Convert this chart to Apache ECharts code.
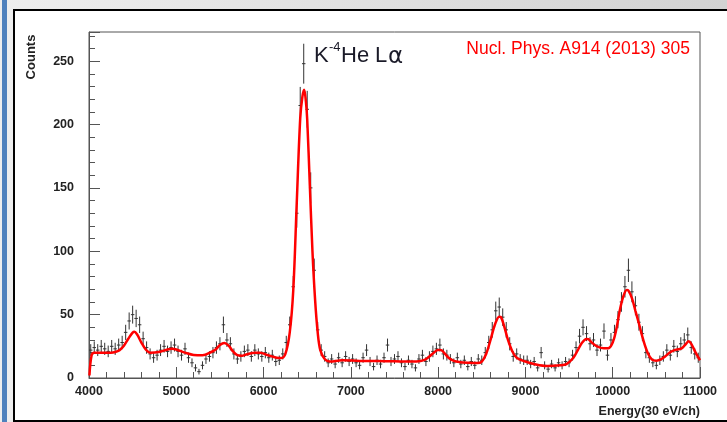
<!DOCTYPE html>
<html><head><meta charset="utf-8">
<script src="https://cdn.jsdelivr.net/npm/echarts@6/dist/echarts.min.js"></script>
<style>
html,body{margin:0;padding:0;width:727px;height:422px;overflow:hidden;background:linear-gradient(to right,#eeeeee,#d2d2d2);}
#blue{position:absolute;left:2px;top:0;width:5px;height:422px;background:#4f81bd;}
#frame{position:absolute;left:13px;top:9px;width:720px;height:409px;border:2px solid #000;background:#fff;}
#c{position:absolute;left:0;top:0;width:727px;height:422px;}
</style>
</head><body><div id="blue"></div><div id="frame"></div><div id="c"></div>
<script>
// Histogram bin centres (Energy, 30 eV/ch)
const binCenters = [
 4020,4060,4100,4140,4180,4220,4260,4300,4340,4380,4420,4460,4500,4540,4580,4620,4660,4700,4740,4780,4820,4860,4900,4940,4980,
 5020,5060,5100,5140,5180,5220,5260,5300,5340,5380,5420,5460,5500,5540,5580,5620,5660,5700,5740,5780,5820,5860,5900,5940,5980,
 6020,6060,6100,6140,6180,6220,6260,6300,6340,6380,6420,6460,6500,6540,6580,6620,6660,6700,6740,6780,6820,6860,6900,6940,6980,
 7020,7060,7100,7140,7180,7220,7260,7300,7340,7380,7420,7460,7500,7540,7580,7620,7660,7700,7740,7780,7820,7860,7900,7940,7980,
 8020,8060,8100,8140,8180,8220,8260,8300,8340,8380,8420,8460,8500,8540,8580,8620,8660,8700,8740,8780,8820,8860,8900,8940,8980,
 9020,9060,9100,9140,9180,9220,9260,9300,9340,9380,9420,9460,9500,9540,9580,9620,9660,9700,9740,9780,9820,9860,9900,9940,9980,
 10020,10060,10100,10140,10180,10220,10260,10300,10340,10380,10420,10460,10500,10540,10580,10620,10660,10700,10740,10780,10820,10860,10900,10940,10980
];
// Measured counts per bin
const counts = [
 22,24,22,25,23,21,25,23,26,28,36,45,50,47,42,31,24,19,16,18,22,25,21,24,26,
 21,18,23,16,12,8,5,10,15,17,20,24,27,42,30,27,19,15,17,21,22,17,22,19,17,
 20,16,18,13,14,19,28,42,72,130,215,248,212,150,85,38,22,17,12,15,11,16,12,17,13,
 15,12,10,16,22,13,9,14,11,16,26,13,15,17,12,9,14,11,8,15,18,13,17,21,23,
 26,19,18,15,12,16,11,14,9,13,10,15,14,20,28,38,53,56,48,38,27,17,19,15,14,
 14,11,13,8,20,10,7,11,8,12,10,13,12,18,24,33,40,35,27,30,22,26,37,18,30,
 36,46,60,72,85,68,57,44,35,20,16,12,10,14,17,22,18,25,21,27,30,34,24,19,16
];
const binHalfWidth = 20;
// Fit curve (red)
const fitEnergy = [4005,4030,4060,4150,4250,4300,4350,4400,4450,4500,4520,4550,4600,4650,4700,4800,4900,4950,5000,5100,5200,5300,5400,5450,5500,5550,5600,5650,5700,5750,5800,5900,5960,6050,6150,6200,6250,6300,6340,6380,6420,6445,6465,6485,6500,6530,6560,6590,6620,6650,6700,6760,6900,7100,7300,7500,7700,7800,7850,7900,7950,8000,8030,8080,8120,8180,8250,8350,8450,8500,8550,8600,8650,8700,8720,8760,8800,8850,8900,9000,9100,9250,9400,9470,9550,9600,9650,9700,9720,9760,9820,9900,9950,10000,10040,10080,10120,10160,10180,10220,10260,10300,10350,10400,10450,10500,10560,10600,10650,10700,10790,10840,10870,10900,10950,11000];
const fitCounts = [2,18,20,20,20,20.5,22,25.5,31,35.8,36.5,34.5,28,22.5,20,20.5,22.5,23,22.5,20,18.2,18,20.5,22.5,26,27.6,25.5,21,18,17.6,18.5,20,20,18,16,15.7,19,36,69,138,205,222,227.5,218,204,152,100,62,36,22,15,13,14,13.5,13.4,13.2,13,13.5,14.5,17,20,22,22,19,16,13.5,12.5,12,11.8,13,19,30,42,48.4,48,40,30,21,16,13,11,9.5,10,11,16,22,28,30.8,30.6,28,25,23.4,23.5,28,38,53,64,69.5,69,63,53,43,30,20,14.5,13.7,15,17,20,21.8,23.4,27,29,27,20,14];
const xTicks = [4000,5000,6000,7000,8000,9000,10000,11000];
const yTicks = [0,50,100,150,200,250];

const histData = binCenters.map((e,i)=>[e,counts[i]]);
const fitData = fitEnergy.map((e,i)=>[e,fitCounts[i]]);

const chart = echarts.init(document.getElementById('c'), null, {renderer:'canvas'});
const axisFont = 'Liberation Sans';
chart.setOption({
  animation:false,
  grid:{left:89,right:27,top:32,bottom:44,show:true,borderColor:'#555',borderWidth:1,backgroundColor:'transparent'},
  xAxis:{type:'value',min:xTicks[0],max:xTicks[xTicks.length-1],interval:1000,
    axisLine:{lineStyle:{color:'#555',width:1}},
    axisTick:{inside:true,length:11,lineStyle:{color:'#555'}},
    minorTick:{show:true,splitNumber:5,length:6,lineStyle:{color:'#555'}},
    splitLine:{show:false},
    axisLabel:{color:'#222',fontWeight:'bold',fontSize:12.5,fontFamily:axisFont,margin:7,
      formatter:v=>xTicks.includes(v)?String(v):''}
  },
  yAxis:{type:'value',min:0,max:273,interval:50,
    axisLine:{lineStyle:{color:'#555',width:1}},
    axisTick:{inside:true,length:11,lineStyle:{color:'#555'}},
    minorTick:{show:true,splitNumber:5,length:6,lineStyle:{color:'#555'}},
    splitLine:{show:false},
    axisLabel:{color:'#222',fontWeight:'bold',fontSize:12.5,fontFamily:axisFont,margin:15,
      formatter:v=>yTicks.includes(v)?String(v):''}
  },
  series:[
    {type:'custom',data:histData,clip:true,z:2,
      renderItem:function(params,api){
        const e=api.value(0), c=api.value(1), err=Math.sqrt(c);
        const p=api.coord([e,c]);
        const lo=api.coord([e,Math.max(0,c-err)]);
        const hi=api.coord([e,c+err]);
        const l=api.coord([e-binHalfWidth,c]);
        const r=api.coord([e+binHalfWidth,c]);
        return {type:'group',children:[
          {type:'line',shape:{x1:p[0],y1:lo[1],x2:p[0],y2:hi[1]},style:{stroke:'#333',lineWidth:1}},
          {type:'line',shape:{x1:l[0],y1:p[1],x2:r[0],y2:p[1]},style:{stroke:'#333',lineWidth:1}}
        ]};
      }
    },
    {type:'line',data:fitData,showSymbol:false,smooth:0.35,z:3,
      lineStyle:{color:'#ff0000',width:2.5}}
  ],
  graphic:{elements:[
    {type:'text',x:31,y:57,rotation:Math.PI/2,style:{text:'Counts',font:'bold 13px "Liberation Sans"',fill:'#222',align:'center',verticalAlign:'middle'}},
    {type:'text',x:700,y:412,style:{text:'Energy(30 eV/ch)',font:'bold 12.5px "Liberation Sans"',fill:'#222',align:'right',verticalAlign:'middle'}},
    {type:'text',x:690,y:49,style:{text:'Nucl. Phys. A914 (2013) 305',font:'17.5px "Liberation Sans"',fill:'#ff0000',align:'right',verticalAlign:'middle'}},
    {type:'text',x:314,y:56,style:{text:'K',font:'22px "Liberation Sans"',fill:'#1a1a28',align:'left',verticalAlign:'middle'}},
    {type:'text',x:329,y:47,style:{text:'-4',font:'13px "Liberation Sans"',fill:'#1a1a28',align:'left',verticalAlign:'middle'}},
    {type:'text',x:341,y:56,style:{text:'He',font:'22px "Liberation Sans"',fill:'#1a1a28',align:'left',verticalAlign:'middle'}},
    {type:'text',x:375,y:56,style:{text:'L',font:'22px "Liberation Sans"',fill:'#1a1a28',align:'left',verticalAlign:'middle'}},
    {type:'text',x:388,y:57,style:{text:'\u03b1',font:'23px "DejaVu Sans"',fill:'#1a1a28',align:'left',verticalAlign:'middle'}}
  ]}
});
</script>
</body></html>
